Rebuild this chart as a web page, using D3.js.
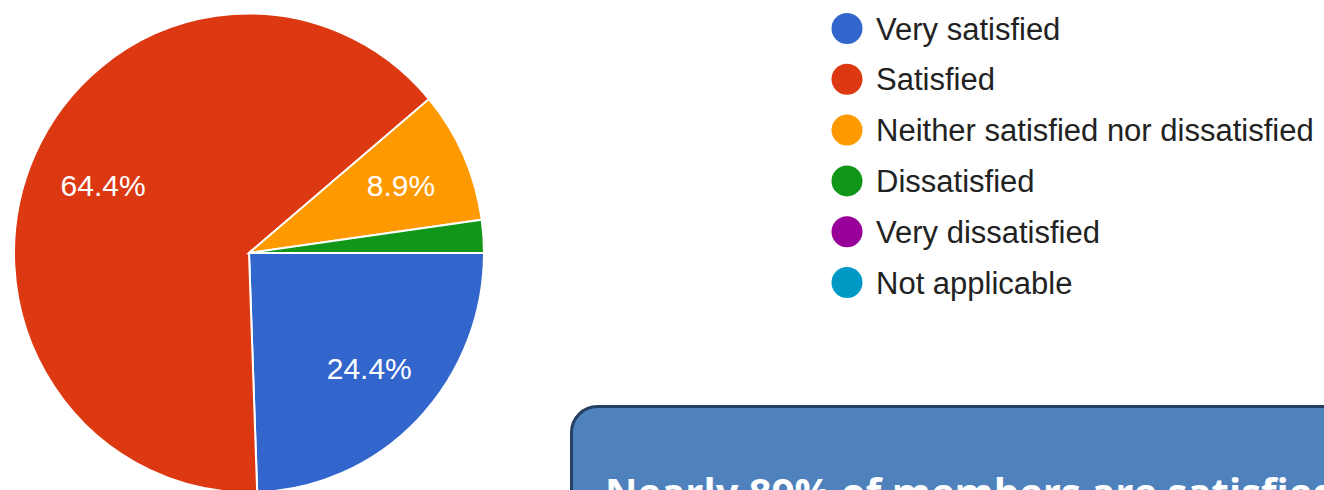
<!DOCTYPE html>
<html>
  <head>
    <title>Member satisfaction pie</title>
    <script src="https://d3js.org/d3.v7.min.js"></script>
    <style>
      body { margin: 0; background: #fff; }
      text { font-family: "Liberation Sans", Arial, sans-serif; }
    </style>
  </head>
  <body>
    <svg id="chart" width="1324" height="490"></svg>
  </body>
  <script type="text/javascript">
    var categories = ["Very satisfied", "Satisfied", "Neither satisfied nor dissatisfied",
                      "Dissatisfied", "Very dissatisfied", "Not applicable"];
    var responses = [11, 29, 4, 1, 0, 0];
    var colors = ["#3366cc", "#dc3912", "#ff9900", "#109618", "#990099", "#0099c6"];
    var callout = "Nearly 89% of members are satisfied";

    var data = categories.map(function (c, i) {
      return { name: c, value: responses[i], color: colors[i] };
    });
    var total = d3.sum(responses);

    var svg = d3.select("#chart");

    // pie
    var r = 235;
    var pie = d3.pie()
        .sort(null)
        .value(function (d) { return d.value; })
        .startAngle(Math.PI / 2)
        .endAngle(Math.PI / 2 + 2 * Math.PI);
    var arc = d3.arc().innerRadius(0).outerRadius(r);
    var labelArc = d3.arc().innerRadius(163).outerRadius(163);

    var arcs = pie(data).filter(function (d) { return d.data.value > 0; });

    var g = svg.append("g")
        .attr("transform", "translate(249,253) scale(1,1.019)");
    g.selectAll("path")
        .data(arcs)
        .enter()
        .append("path")
          .attr("d", arc)
          .attr("fill", function (d) { return d.data.color; })
          .attr("stroke", "#fff")
          .attr("stroke-width", 2);

    var lg = svg.append("g").attr("transform", "translate(249,253)");
    lg.selectAll("text")
        .data(arcs.filter(function (d) { return d.data.value / total > 0.05; }))
        .enter()
        .append("text")
          .attr("transform", function (d) {
            var c = labelArc.centroid(d);
            return "translate(" + (c[0] + 3) + "," + c[1] * 1.019 + ")";
          })
          .attr("text-anchor", "middle")
          .attr("dy", "0.36em")
          .attr("fill", "#fff")
          .style("font-size", "30px")
          .text(function (d) { return (d.data.value / total * 100).toFixed(1) + "%"; });

    // legend
    var legend = svg.append("g")
        .selectAll("g")
        .data(data)
        .enter()
        .append("g")
          .attr("transform", function (d, i) { return "translate(847," + (28.5 + i * 50.8) + ")"; });
    legend.append("circle")
        .attr("r", 15.5)
        .attr("fill", function (d) { return d.color; });
    legend.append("text")
        .attr("x", 29)
        .attr("dy", "0.36em")
        .attr("fill", "#222")
        .style("font-size", "31px")
        .text(function (d) { return d.name; });

    // callout box
    svg.append("rect")
        .attr("x", 571.5)
        .attr("y", 406.5)
        .attr("width", 900)
        .attr("height", 200)
        .attr("rx", 26)
        .attr("fill", "#4f81bd")
        .attr("stroke", "#243f60")
        .attr("stroke-width", 3);
    svg.append("text")
        .attr("x", 605)
        .attr("y", 507)
        .attr("fill", "#fff")
        .style("font-family", "'Open Sans', sans-serif")
        .style("font-weight", "bold")
        .style("font-size", "40px")
        .text(callout);
  </script>
</html>
